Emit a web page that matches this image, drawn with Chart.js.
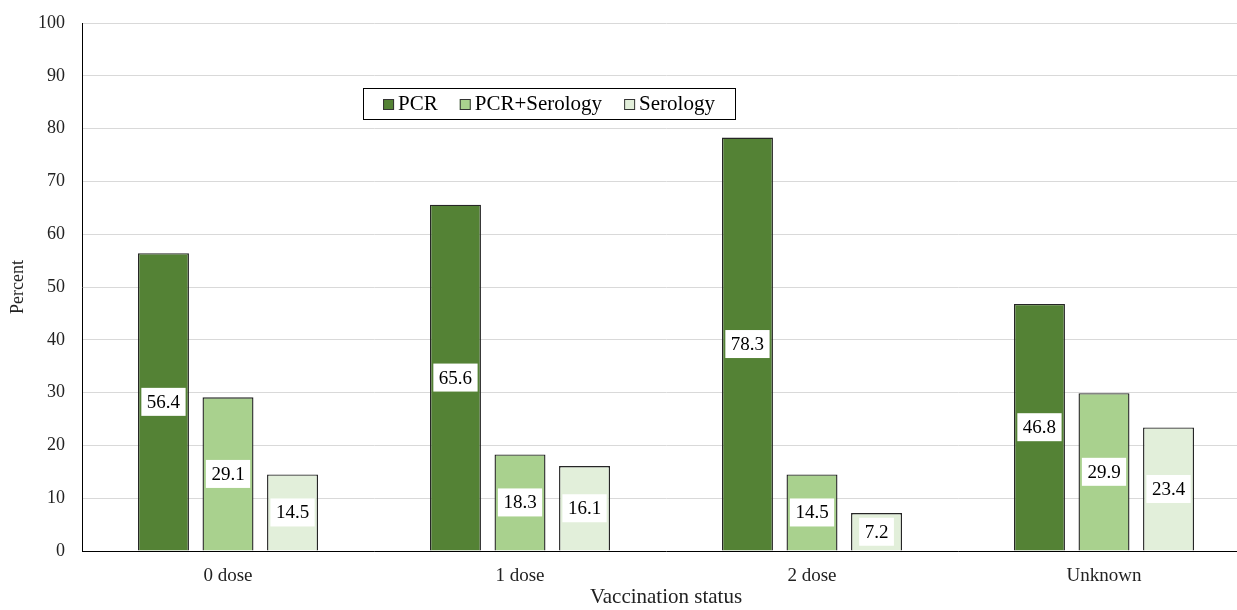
<!DOCTYPE html>
<html>
<head>
<meta charset="utf-8">
<script src="https://cdn.jsdelivr.net/npm/chart.js@4/dist/chart.umd.min.js"></script>
<style>
  html, body { margin: 0; padding: 0; background: #fff; overflow: hidden; }
  #wrap { width: 1237px; height: 610px; overflow: hidden; }
</style>
</head>
<body>
<div id="wrap"><canvas id="chart" width="1250" height="610"></canvas></div>
<script>
const categories = ["0 dose", "1 dose", "2 dose", "Unknown"];
const pcr = [56.4, 65.6, 78.3, 46.8];
const pcrSerology = [29.1, 18.3, 14.5, 29.9];
const serology = [14.5, 16.1, 7.2, 23.4];
const yTicks = [0, 10, 20, 30, 40, 50, 60, 70, 80, 90, 100];

const FONT = "'Liberation Serif', 'Times New Roman', serif";

// white boxes with the value in the middle of each bar
const barLabels = {
  id: 'barLabels',
  afterDatasetsDraw(chart) {
    const ctx = chart.ctx;
    ctx.save();
    ctx.font = "19px " + FONT;
    ctx.textAlign = 'center';
    ctx.textBaseline = 'middle';
    chart.data.datasets.forEach((ds, i) => {
      chart.getDatasetMeta(i).data.forEach((bar, j) => {
        const txt = ds.data[j].toFixed(1);
        const w = ctx.measureText(txt).width + 11;
        const h = 28;
        const cy = (bar.y + bar.base) / 2;
        ctx.fillStyle = '#fff';
        ctx.fillRect(bar.x - w / 2, cy - h / 2, w, h);
        ctx.fillStyle = '#000';
        ctx.fillText(txt, bar.x, cy + 1);
      });
    });
    ctx.restore();
  }
};

// boxed legend inside the plot
const boxLegend = {
  id: 'boxLegend',
  afterDraw(chart) {
    const ctx = chart.ctx;
    const ca = chart.chartArea;
    const x0 = ca.left + 281, y0 = 88, bw = 372, bh = 31;
    ctx.save();
    ctx.fillStyle = '#fff';
    ctx.fillRect(x0, y0, bw, bh);
    ctx.strokeStyle = '#000';
    ctx.lineWidth = 1;
    ctx.strokeRect(x0 + 0.5, y0 + 0.5, bw, bh);
    ctx.font = "21px " + FONT;
    ctx.textBaseline = 'middle';
    const items = chart.data.datasets.map(d => ({ label: d.label, color: d.backgroundColor }));
    const box = 11, gapIn = 4, gapOut = 22;
    let total = 0;
    items.forEach((it, k) => {
      total += box + gapIn + ctx.measureText(it.label).width + (k < items.length - 1 ? gapOut : 0);
    });
    let x = x0 + (bw - total) / 2;
    const cy = y0 + bh / 2 + 1;
    items.forEach(it => {
      ctx.fillStyle = it.color;
      ctx.fillRect(x, cy - box / 2, box, box);
      ctx.strokeStyle = '#333';
      ctx.strokeRect(x + 0.5, cy - box / 2 + 0.5, box - 1, box - 1);
      x += box + gapIn;
      ctx.fillStyle = '#000';
      ctx.fillText(it.label, x, cy);
      x += ctx.measureText(it.label).width + gapOut;
    });
    ctx.restore();
  }
};

const ctx = document.querySelector('#chart').getContext('2d');
const chart = new Chart(ctx, {
  type: 'bar',
  data: {
    labels: categories,
    datasets: [
      { label: 'PCR', data: pcr, backgroundColor: '#548235' },
      { label: 'PCR+Serology', data: pcrSerology, backgroundColor: '#A9D18E' },
      { label: 'Serology', data: serology, backgroundColor: '#E2EFDA' }
    ].map(d => Object.assign(d, {
      borderColor: '#262626',
      borderWidth: 1.4,
      categoryPercentage: 0.663,
      barPercentage: 0.79
    }))
  },
  options: {
    responsive: false,
    animation: false,
    layout: { padding: { top: 23, right: 0, left: 0, bottom: 0 } },
    scales: {
      x: {
        grid: { display: false, drawTicks: false },
        border: { color: '#000', width: 1 },
        ticks: { color: '#222', font: { family: FONT, size: 19 }, padding: 14 },
        title: { display: true, text: 'Vaccination status', color: '#222', font: { family: FONT, size: 21 }, padding: { top: 2, bottom: 0 } },
        afterFit(scale) { scale.height = 59; }
      },
      y: {
        min: 0,
        max: 100,
        afterBuildTicks(scale) { scale.ticks = yTicks.map(v => ({ value: v })); },
        grid: { color: '#d9d9d9', drawTicks: false },
        border: { color: '#000', width: 1 },
        ticks: { color: '#222', font: { family: FONT, size: 18 }, padding: 17 },
        title: { display: true, text: 'Percent', color: '#222', font: { family: FONT, size: 18 }, padding: { top: 7, bottom: 0 } },
        afterFit(scale) {
          scale.width = 82;
          scale.paddingTop = 0;
          scale.paddingBottom = 0;
        }
      }
    },
    plugins: {
      legend: { display: false },
      tooltip: { enabled: false }
    }
  },
  plugins: [barLabels, boxLegend]
});
</script>
</body>
</html>
